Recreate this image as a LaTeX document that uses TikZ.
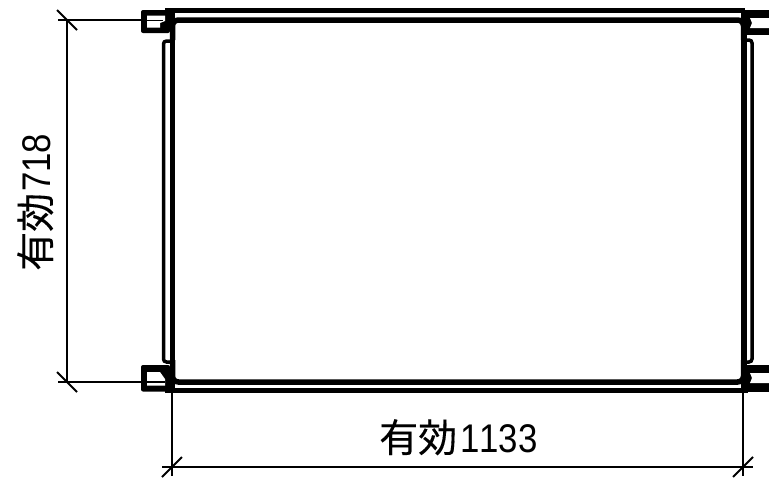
\documentclass[tikz,border=0pt]{standalone}
\usepackage{fontspec}
\newfontfamily\cjkf[FakeBold=0.25]{Noto Sans CJK JP}
\newfontfamily\digf[Kerning=Off,FakeStretch=0.87]{Liberation Sans}
\tikzset{
  thinline/.style={line width=1.8pt,line cap=butt},
  toprail/.style={line width=5pt},
  lowrail/.style={line width=5.5pt},
  panel/.style={line width=3.5pt,rounded corners=3pt},
  hollow/.style={fill=white,draw=none},
  label/.style={inner sep=0pt},
  cjksize/.style={font=\fontsize{39}{39}\selectfont}
}
\begin{document}
\begin{tikzpicture}[x=1pt,y=-1pt]
\useasboundingbox (0,0) rectangle (769,479);
% dimension lines
\draw[thinline] (58,20) -- (142,20);
\draw[thinline] (58,382) -- (142,382);
\draw[thinline] (67,20) -- (67,382);
\draw[thinline] (57,10) -- (77,30);
\draw[thinline] (57,372) -- (77,392);
\draw[thinline] (172,390) -- (172,476);
\draw[thinline] (743,390) -- (743,476);
\draw[thinline] (162,467) -- (753,467);
\draw[thinline] (162,477) -- (182,457);
\draw[thinline] (733,477) -- (753,457);
% rails
\draw[toprail] (165,10.5) -- (745,10.5);
\draw[lowrail,rounded corners=6pt] (172.5,40) -- (172.5,20) -- (200,20) -- (720,20) -- (743.5,20) -- (743.5,40);
\draw[lowrail,rounded corners=6pt] (172.5,360) -- (172.5,382) -- (200,382) -- (720,382) -- (743.5,382) -- (743.5,360);
\draw[toprail] (165,390.5) -- (748,390.5);
% frame verticals
\draw[line width=5pt] (172.5,10) -- (172.5,390);
\draw[line width=6pt] (743.5,10) -- (743.5,390);
% side panels
\draw[panel] (170,41) -- (163.5,41) -- (163.5,362) -- (170,362);
\draw[panel] (745,40) -- (752,40) -- (752,362) -- (745,362);
% bracket top left
\fill[rounded corners=2pt] (141,10) -- (170,10) -- (170,33) -- (141,33) -- cycle;
\fill[hollow] (147,15.5) -- (165,15.5) -- (165,21) -- (160,23) -- (160,27.5) -- (147,27.5) -- cycle;
\draw[thinline] (147,20.5) -- (163,20.5);
% bracket bottom left
\fill[rounded corners=2pt] (141,365) -- (170,365) -- (170,391.5) -- (141,391.5) -- cycle;
\fill[hollow] (147,372) -- (160,372) -- (165,379) -- (165,385.5) -- (147,385.5) -- cycle;
\draw[thinline] (147,382) -- (165,382);
% bracket top right
\fill (745,9.5) rectangle (769,35);
\fill[hollow] (750,18) -- (769,18) -- (769,28) -- (750,28) -- (752,23) -- cycle;
% bracket bottom right
\fill (745,365) rectangle (769,392);
\fill[hollow] (750,373) -- (769,373) -- (769,383) -- (750,383) -- (752,378) -- cycle;
% labels
\node[label,anchor=base west,cjksize] (bottomlabel) at (379,452) {\cjkf 有効\hspace{3pt}\fontsize{40}{40}\selectfont\digf 1133};
\node[label,rotate=90,anchor=base west,cjksize] (leftlabel) at (50,271) {\cjkf 有効\hspace{1pt}\fontsize{40}{40}\selectfont\digf 718};
\end{tikzpicture}
\end{document}
